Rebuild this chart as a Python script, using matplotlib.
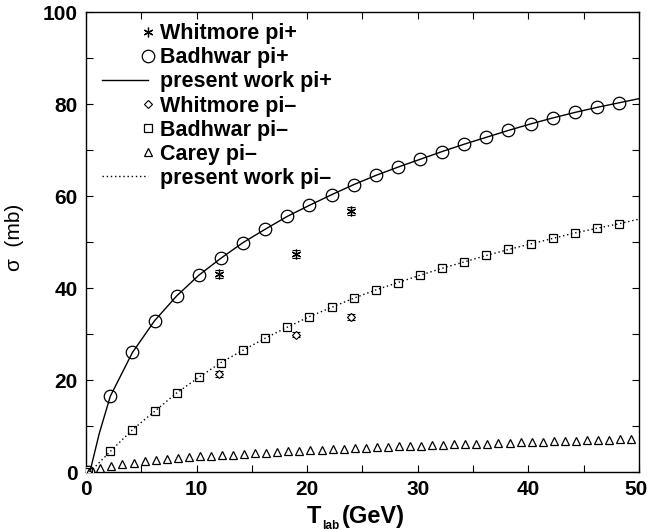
import matplotlib
matplotlib.use("Agg")
import matplotlib.pyplot as plt
import matplotlib.transforms as mtransforms
from matplotlib.legend_handler import HandlerLine2D
from matplotlib.lines import Line2D
import numpy as np

plt.rcParams['font.family'] = ['Liberation Sans', 'DejaVu Sans']
plt.rcParams['font.weight'] = 'bold'

# Whitmore pi+
wp_x = [12.0, 19.0, 24.0]
wp_y = [43.1, 47.4, 56.7]
wp_err = [0.9, 0.9, 0.9]

# Badhwar pi+
bp_x = [0.2, 2.2, 4.2, 6.2, 8.2, 10.2, 12.2, 14.2, 16.2, 18.2, 20.2, 22.2, 24.2,
        26.2, 28.2, 30.2, 32.2, 34.2, 36.2, 38.2, 40.2, 42.2, 44.2, 46.2, 48.2]
bp_y = [0.0, 16.5, 26.0, 32.9, 38.3, 42.8, 46.5, 49.9, 52.8, 55.6, 58.0, 60.3, 62.5,
        64.5, 66.3, 68.0, 69.7, 71.3, 72.8, 74.3, 75.7, 77.0, 78.2, 79.3, 80.3]

# present work pi+
pp_x = [0.35, 1.2, 2.2, 4.2, 6.2, 8.2, 10.2, 12.2, 14.2, 16.2, 18.2, 20.2, 22.2, 24.2,
        26.2, 28.2, 30.2, 32.2, 34.2, 36.2, 38.2, 40.2, 42.2, 44.2, 46.2, 48.2, 50.0]
pp_y = [0.0, 8.4, 16.5, 26.0, 32.9, 38.3, 42.8, 46.5, 49.9, 52.8, 55.6, 58.0, 60.3, 62.5,
        64.5, 66.3, 68.0, 69.7, 71.3, 72.8, 74.3, 75.7, 77.0, 78.2, 79.3, 80.3, 81.2]

# Whitmore pi-
wm_x = [12.0, 19.0, 24.0]
wm_y = [21.3, 29.9, 33.7]
wm_err = [0.6, 0.6, 0.6]

# Badhwar pi-
bm_x = [0.2, 2.2, 4.2, 6.2, 8.2, 10.2, 12.2, 14.2, 16.2, 18.2, 20.2, 22.2, 24.2,
        26.2, 28.2, 30.2, 32.2, 34.2, 36.2, 38.2, 40.2, 42.2, 44.2, 46.2, 48.2]
bm_y = [0.0, 4.5, 9.2, 13.2, 17.2, 20.6, 23.8, 26.5, 29.1, 31.5, 33.8, 35.8, 37.8,
        39.6, 41.2, 42.8, 44.3, 45.7, 47.1, 48.4, 49.6, 50.8, 52.0, 53.0, 54.0]

# Carey pi-
cm_x = [0.3, 1.3, 2.3, 3.3, 4.3, 5.3, 6.3, 7.3, 8.3, 9.3, 10.3, 11.3, 12.3, 13.3, 14.3,
        15.3, 16.3, 17.3, 18.3, 19.3, 20.3, 21.3, 22.3, 23.3, 24.3, 25.3, 26.3, 27.3,
        28.3, 29.3, 30.3, 31.3, 32.3, 33.3, 34.3, 35.3, 36.3, 37.3, 38.3, 39.3, 40.3,
        41.3, 42.3, 43.3, 44.3, 45.3, 46.3, 47.3, 48.3, 49.3]
cm_y = [0.0, 0.9, 1.4, 1.7, 2.0, 2.3, 2.6, 2.9, 3.1, 3.3, 3.4, 3.6, 3.7, 3.8, 4.0,
        4.1, 4.2, 4.4, 4.5, 4.6, 4.8, 4.9, 5.0, 5.1, 5.2, 5.3, 5.4, 5.5,
        5.6, 5.6, 5.7, 5.8, 5.9, 6.0, 6.1, 6.1, 6.2, 6.3, 6.4, 6.5, 6.5,
        6.6, 6.7, 6.8, 6.8, 6.9, 7.0, 7.0, 7.1, 7.1]

# present work pi-
pm_x = [0.35, 2.2, 4.2, 6.2, 8.2, 10.2, 12.2, 14.2, 16.2, 18.2, 20.2, 22.2, 24.2,
        26.2, 28.2, 30.2, 32.2, 34.2, 36.2, 38.2, 40.2, 42.2, 44.2, 46.2, 48.2, 50.0]
pm_y = [0.0, 4.5, 9.2, 13.2, 17.2, 20.6, 23.8, 26.5, 29.1, 31.5, 33.8, 35.8, 37.8,
        39.6, 41.2, 42.8, 44.3, 45.7, 47.1, 48.4, 49.6, 50.8, 52.0, 53.0, 54.0, 55.0]


class RightMarkerHandler(HandlerLine2D):
    """Legend handler drawing the marker at the right end of the handle."""
    def create_artists(self, legend, orig_handle, xdescent, ydescent, width, height,
                       fontsize, trans):
        xdata = np.array([-xdescent, -xdescent + width])
        ydata = np.full(2, (height - ydescent) / 2)
        legline = Line2D(xdata, ydata, markevery=[1])
        self.update_prop(legline, orig_handle, legend)
        legline.set_transform(trans)
        return [legline]


fig = plt.figure(figsize=(6.49, 5.31), dpi=100)
ax = fig.add_axes([0.1325, 0.111, 0.852, 0.866])

ax.errorbar(wp_x, wp_y, yerr=wp_err, fmt='none', ecolor='black', elinewidth=0.8,
            capsize=3, capthick=0.8)
h1, = ax.plot(wp_x, wp_y, linestyle='none', marker=(6, 2, 0), markersize=7, color='black',
              markeredgewidth=0.9, label='Whitmore pi+')
h2, = ax.plot(bp_x, bp_y, linestyle='none', marker='o', markersize=9, markerfacecolor='white',
              markeredgecolor='black', markeredgewidth=0.9, label='Badhwar pi+', zorder=3)
h3, = ax.plot(pp_x, pp_y, '-', color='black', linewidth=1.0, label='present work pi+', zorder=4)

ax.errorbar(wm_x, wm_y, yerr=wm_err, fmt='none', ecolor='black', elinewidth=0.8,
            capsize=3, capthick=0.8)
h4, = ax.plot(wm_x, wm_y, linestyle='none', marker='D', markersize=4, markerfacecolor='white',
              markeredgecolor='black', markeredgewidth=0.8, label='Whitmore pi\u2013')
h5, = ax.plot(bm_x, bm_y, linestyle='none', marker='s', markersize=5.8, markerfacecolor='white',
              markeredgecolor='black', markeredgewidth=0.9, label='Badhwar pi\u2013', zorder=3)
h6, = ax.plot(cm_x, cm_y, linestyle='none', marker='^', markersize=5.5, markerfacecolor='white',
              markeredgecolor='black', markeredgewidth=0.9, label='Carey pi\u2013', zorder=3)
h7, = ax.plot(pm_x, pm_y, linestyle=(0, (1, 2)), color='black', linewidth=1.0,
              label='present work pi\u2013', zorder=4)

ax.set_xlim(0, 50)
ax.set_ylim(0, 100)
ax.set_xticks([0, 10, 20, 30, 40, 50])
ax.set_xticks([5, 15, 25, 35, 45], minor=True)
ax.set_yticks([0, 20, 40, 60, 80, 100])
ax.set_yticks([10, 30, 50, 70, 90], minor=True)
ax.tick_params(which='both', direction='in', top=True, right=True, length=5, width=0.8,
               labelsize=15, pad=6)
for s in ax.spines.values():
    s.set_linewidth(1.0)

# keep the last x tick label inside the canvas
fig.canvas.draw()
lbls = ax.get_xticklabels()
lbls[-1].set_transform(lbls[-1].get_transform() +
                       mtransforms.ScaledTranslation(-3 / 100, 0, fig.dpi_scale_trans))

# x label: T with a small "lab" subscript, then (GeV)
t_main = ax.text(0.3996, -0.111, 'T', transform=ax.transAxes, fontsize=17,
                 ha='left', va='baseline')
t_sub = ax.annotate('lab', xy=(1, 0), xycoords=t_main, xytext=(0.5, -3),
                    textcoords='offset points', fontsize=8.5, ha='left', va='bottom')
t_unit = ax.annotate('(GeV)', xy=(1, 0), xycoords=(t_sub, t_main), xytext=(2, 0),
                     textcoords='offset points', fontsize=17, ha='left', va='bottom')

ax.set_ylabel('\u03c3  (mb)', fontsize=15)
ax.yaxis.set_label_coords(-0.112, 0.511)

handles = [h1, h2, h3, h4, h5, h6, h7]
hmap = {h: RightMarkerHandler() for h in handles}
leg = ax.legend(handles=handles, loc='upper left', bbox_to_anchor=(0.029, 0.976),
                frameon=False, fontsize=15.5, handlelength=2.14, handletextpad=0.56,
                labelspacing=0.145, borderaxespad=0.0, borderpad=0.0, handler_map=hmap)

fig.savefig('out.png', dpi=100)
